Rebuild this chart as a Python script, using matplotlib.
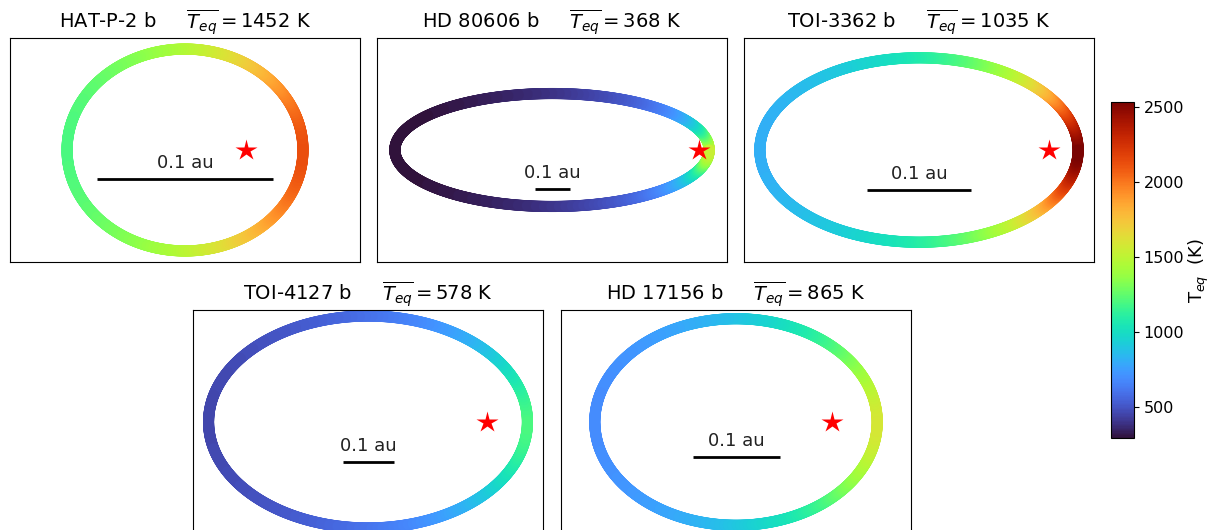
import numpy as np
import matplotlib

matplotlib.use("Agg")
import matplotlib.pyplot as plt
from matplotlib.collections import LineCollection
from matplotlib.colors import Normalize

# Planet parameters: semi-major axis (au), eccentricity, orbit-averaged Teq (K)
NAMES = ["HAT-P-2 b", "HD 80606 b", "TOI-3362 b", "TOI-4127 b", "HD 17156 b"]
SEMI_MAJOR = [0.0674, 0.449, 0.153, 0.3126, 0.1623]
ECC = [0.5172, 0.9332, 0.815, 0.7471, 0.6819]
TEQ_MEAN = [1452, 368, 1035, 578, 865]

# Colour range of the shared colorbar (K)
T_MIN, T_MAX = 293, 2533

W, H = 1213, 530
# panel boxes in pixels: left, top ; panel size 350 x 224
PANELS = [(10, 38), (377, 38), (744, 38), (193, 310), (561, 310)]
PW, PH = 350, 224
# pixels per 0.1 au for each panel
SCALE_PX = [175, 35, 104, 51, 87]


def orbit_temps(a, e, tbar, n=1200):
    E = np.linspace(0, 2 * np.pi, n)
    x = a * (np.cos(E) - e)          # star at the focus (0, 0), periastron on +x
    y = a * np.sqrt(1 - e**2) * np.sin(E)
    s = np.sqrt(1 - e * np.cos(E))   # (r/a)^(1/2)
    # time average of r^-1/2 over one orbit is <s> / sqrt(a)
    t = tbar / (s * s[:-1].mean())
    return x, y, t


fig = plt.figure(figsize=(W / 100, H / 100), dpi=100)
cmap = plt.get_cmap("turbo")
norm = Normalize(T_MIN, T_MAX)

for i, name in enumerate(NAMES):
    a, e = SEMI_MAJOR[i], ECC[i]
    left, top = PANELS[i]
    ax = fig.add_axes([left / W, (H - top - PH) / H, PW / W, PH / H])
    x, y, t = orbit_temps(a, e, TEQ_MEAN[i])
    pts = np.column_stack([x, y]).reshape(-1, 1, 2)
    segs = np.concatenate([pts[:-1], pts[1:]], axis=1)
    tc = 0.5 * (t[:-1] + t[1:])
    lc = LineCollection(segs, colors=cmap(norm(tc)), linewidths=8,
                        capstyle="round")
    ax.add_collection(lc)
    ax.plot(0, 0, marker="*", color="red", ms=16, mec="none", zorder=3)

    ppa = SCALE_PX[i] / 0.1
    cx = -a * e
    ax.set_xlim(cx - PW / 2 / ppa, cx + PW / 2 / ppa)
    ax.set_ylim(-PH / 2 / ppa, PH / 2 / ppa)

    # 0.1 au scale bar below the orbit centre
    yb = -0.25 * a
    ax.plot([cx - 0.05, cx + 0.05], [yb, yb], color="black", lw=2,
            solid_capstyle="butt")
    ax.text(cx, yb + 7 / ppa, "0.1 au", ha="center", va="bottom", fontsize=13,
            color="#222222")

    ax.set_xticks([])
    ax.set_yticks([])
    ax.set_title(f"{name}     $\\overline{{T_{{eq}}}} = {TEQ_MEAN[i]}$ K",
                 fontsize=14, pad=6)

cax = fig.add_axes([1111 / W, (H - 438) / H, 23 / W, 336 / H])
sm = plt.cm.ScalarMappable(norm=norm, cmap=cmap)
cb = fig.colorbar(sm, cax=cax)
cb.set_ticks([500, 1000, 1500, 2000, 2500])
cb.ax.tick_params(labelsize=11.5)
cb.set_label("T$_{eq}$  (K)", fontsize=13, labelpad=2)

fig.savefig("out.png", dpi=100)
